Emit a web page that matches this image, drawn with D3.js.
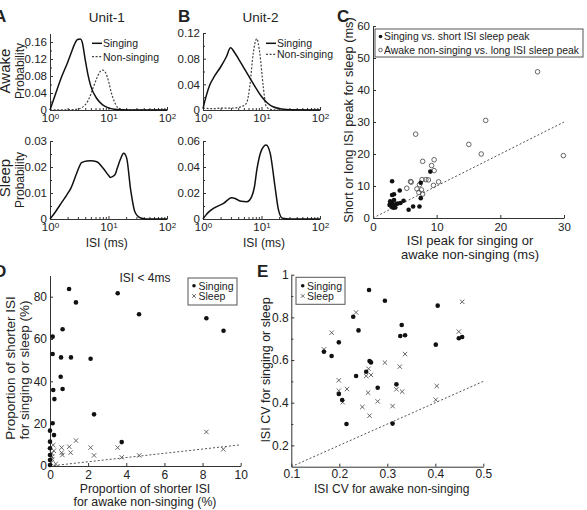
<!DOCTYPE html>
<html><head><meta charset="utf-8">
<script src="https://cdn.jsdelivr.net/npm/d3@7"></script>
<style>body{margin:0;background:#fff;} svg{display:block;}</style>
</head><body><svg id="c" width="587" height="510"></svg>
<script>
// ---------------- DATA ----------------
// Panel A (Unit-1) ISI distributions, ISI in ms
const u1SingIsi = [1,1.26,1.58,2,2.34,2.63,2.95,3.31,3.55,3.98,4.47,5.01,6.31,7.94,10,12.6,17.8,25,100];
const u1SingP   = [0,0.04,0.078,0.112,0.137,0.155,0.166,0.167,0.16,0.12,0.082,0.055,0.027,0.012,0.005,0.002,0.0005,0,0];
const u1NonIsi  = [1,1.58,2.5,3.16,3.98,4.47,5.01,5.62,6.31,7.08,7.94,8.91,10,11.2,12.6,14.1,15.8,20,100];
const u1NonP    = [0.0005,0.0005,0.001,0.003,0.012,0.022,0.038,0.057,0.075,0.089,0.094,0.088,0.068,0.04,0.02,0.007,0.003,0.0005,0];
const u1SleepIsi = [1,1.26,1.48,1.78,1.93,2.29,2.86,3.47,4.27,5.0,6.3,8.1,10,10.7,12.9,14.1,15.8,18.2,20.4,24,28.2,34.7,45,100];
const u1SleepP   = [0,0.003,0.0054,0.008,0.0092,0.012,0.0176,0.0217,0.0223,0.0224,0.022,0.0195,0.0168,0.016,0.017,0.0195,0.0227,0.0253,0.0235,0.011,0.0028,0.0005,0,0];
// Panel B (Unit-2)
const u2SingIsi = [1,1.12,1.32,1.58,2.0,2.51,2.95,3.55,4.47,6.31,7.94,10,12.6,15.8,22.4,31.6,100];
const u2SingP   = [0.002,0.02,0.04,0.053,0.067,0.083,0.097,0.088,0.073,0.05,0.035,0.021,0.011,0.005,0.0015,0.0003,0];
const u2NonIsi  = [1,1.5,2,3,3.98,5.01,5.62,6.31,7.24,8.32,9.33,10.7,12.0,14.1,20,100];
const u2NonP    = [0.003,0.002,0.003,0.003,0.004,0.007,0.012,0.037,0.089,0.111,0.089,0.037,0.006,0.001,0,0];
const u2SleepIsi = [1,1.12,1.26,1.51,2.24,3.09,3.55,4.27,5.62,6.76,7.59,8.32,10,12.0,14.1,17,19.5,22.9,30,100];
const u2SleepP   = [0,0.003,0.0055,0.0082,0.012,0.0164,0.0158,0.0138,0.0133,0.017,0.025,0.0377,0.053,0.057,0.0505,0.025,0.007,0.0005,0,0];

// Panel C
const cSingX = [3.0,3.3,3.0,4.2,2.7,3.0,2.6,3.2,3.5,3.8,4.3,4.8,5.6,6.3,7.3,7.5,7.5,9.0,2.8,3.3,3.1,2.9,3.5];
const cSingY = [11.5,7.4,7.2,8.6,5.2,4.7,4.1,3.2,4.2,4.5,4.7,5.4,2.6,3.6,3.6,6.2,11.0,14.5,4.8,5.6,3.8,3.5,3.3];
const cAwakeX = [25.85,17.7,15.05,17.0,29.9,6.7,7.8,9.6,9.2,9.6,10.3,9.5,5.9,6.0,7.7,8.3,8.7,6.9,7.2,7.8,7.6,5.3,7.3];
const cAwakeY = [45.7,30.5,23.0,20.0,19.5,26.2,17.7,18.2,16.4,14.8,11.3,10.2,11.4,11.2,12.0,12.0,11.9,9.1,8.0,7.5,8.8,9.3,10.4];

// Panel D (ISI < 4ms)
const dSingX = [1.0,1.36,3.55,4.67,8.2,9.1,0.66,0.14,0.14,0.58,1.1,2.13,0.56,0.66,0.17,0.23,2.31,0.14,0.0,0.21,0.0,3.76,0.0,0.0,0.0,0.0];
const dSingY = [83.6,77.3,81.6,71.7,69.8,63.9,64.6,61.1,52.9,51.3,51.3,50.7,42.2,36.4,35.9,31.6,24.4,20.2,16.7,14.6,11.5,11.3,8.4,5.2,2.8,0.5];
const dSleepX = [0.17,0.61,1.01,1.36,1.08,0.61,0.65,0.2,0.1,0.1,0.12,2.13,2.31,3.55,3.76,4.68,8.2,9.09,0.05,0.3];
const dSleepY = [9.9,8.7,9.1,12.0,6.3,6.3,5.2,7.2,6.0,4.3,3.2,8.7,5.0,8.7,4.1,5.0,16.1,7.9,1.5,1.0];

// Panel E (ISI CV)
const eSingX = [0.262,0.295,0.405,0.229,0.240,0.330,0.327,0.337,0.401,0.449,0.456,0.199,0.168,0.184,0.263,0.266,0.256,0.235,0.280,0.319,0.199,0.206,0.215,0.311];
const eSingY = [0.928,0.878,0.855,0.803,0.739,0.764,0.713,0.716,0.672,0.702,0.708,0.683,0.639,0.619,0.595,0.589,0.545,0.525,0.470,0.486,0.441,0.413,0.300,0.302];
const eSleepX = [0.235,0.456,0.184,0.449,0.168,0.337,0.295,0.326,0.261,0.266,0.256,0.199,0.403,0.216,0.319,0.331,0.260,0.199,0.207,0.280,0.401,0.248,0.311,0.263];
const eSleepY = [0.823,0.873,0.728,0.733,0.650,0.628,0.588,0.569,0.559,0.530,0.525,0.505,0.478,0.464,0.463,0.452,0.447,0.456,0.402,0.406,0.414,0.380,0.384,0.339];

// tick values
const logMajor = [1,10,100];
const logMinor = [2,3,4,5,6,7,8,9,20,30,40,50,60,70,80,90];
const aTopTicks = [0,0.04,0.08,0.12,0.16];
const aBotTicks = [0,0.01,0.02,0.03];
const bTopTicks = [0,0.04,0.08,0.12];
const bBotTicks = [0,0.02,0.04,0.06];
const cTicksX = [0,10,20,30];
const cTicksY = [0,10,20,30,40,50,60];
const dTicksX = [0,2,4,6,8,10];
const dTicksY = [0,20,40,60,80];
const eTicksX = [0.1,0.2,0.3,0.4,0.5];
const eTicksY = [0.2,0.4,0.6,0.8,1];

// ---------------- DRAW ----------------
const FONT = '"Liberation Sans", Arial, Helvetica, sans-serif';
const AX = "#333";
const svg = d3.select("#c");

function styleAxis(g, fs) {
  g.attr("font-family", FONT).attr("font-size", fs);
  g.selectAll("path.domain").attr("stroke", AX).attr("stroke-width", 1);
  g.selectAll("line").attr("stroke", AX).attr("stroke-width", 1);
  g.selectAll("text").attr("fill", "#222");
}
function yAxis(x0, scale, major, minor, fs, pad) {
  const g = svg.append("g").attr("transform", `translate(${x0},0)`);
  g.call(d3.axisLeft(scale).tickValues(major).tickFormat(d => String(d)).tickSize(-3).tickSizeOuter(0).tickPadding(pad));
  if (minor) {
    const m = g.append("g").call(d3.axisLeft(scale).tickValues(minor).tickFormat("").tickSize(-2).tickSizeOuter(0));
    m.select(".domain").remove();
  }
  styleAxis(g, fs);
  return g;
}
function xAxis(y0, scale, major, minor, fs, pad, relabel) {
  const g = svg.append("g").attr("transform", `translate(0,${y0})`);
  g.call(d3.axisBottom(scale).tickValues(major).tickFormat(d => String(d)).tickSize(-3).tickSizeOuter(0).tickPadding(pad));
  if (relabel) g.selectAll(".tick text").each(relabel);
  if (minor) {
    const m = g.append("g").call(d3.axisBottom(scale).tickValues(minor).tickFormat("").tickSize(-2).tickSizeOuter(0));
    m.select(".domain").remove();
  }
  styleAxis(g, fs);
  return g;
}
function logXAxis(y0, scale) {
  return xAxis(y0, scale, logMajor, logMinor, 11.5, 4, function(d) {
    const t = d3.select(this);
    t.text("10");
    t.append("tspan").attr("dy", "-0.45em").attr("font-size", "0.7em").text(String(Math.round(Math.log10(d))));
  });
}
function txt(x, y, s, fs, opts = {}) {
  const t = svg.append("text").attr("x", x).attr("y", y).text(s)
    .attr("font-family", FONT).attr("font-size", fs).attr("fill", "#222")
    .attr("text-anchor", opts.anchor || "start");
  if (opts.bold) t.attr("font-weight", "bold");
  if (opts.rot) t.attr("transform", `rotate(-90,${x},${y})`);
  return t;
}
function curve(xs, ys, isi, p, dashed) {
  const line = d3.line().x(d => xs(d[0])).y(d => ys(d[1])).curve(d3.curveMonotoneX);
  svg.append("path").datum(d3.zip(isi, p)).attr("d", line).attr("fill", "none")
    .attr("stroke", dashed ? "#444" : "#111").attr("stroke-width", dashed ? 1.2 : 1.5)
    .attr("stroke-dasharray", dashed ? "2,1.6" : null);
}
function dots(xs, ys, X, Y, r) {
  svg.append("g").selectAll("circle").data(d3.zip(X, Y)).join("circle")
    .attr("cx", d => xs(d[0])).attr("cy", d => ys(d[1])).attr("r", r).attr("fill", "#111");
}
function rings(xs, ys, X, Y, r) {
  svg.append("g").selectAll("circle").data(d3.zip(X, Y)).join("circle")
    .attr("cx", d => xs(d[0])).attr("cy", d => ys(d[1])).attr("r", r)
    .attr("fill", "none").attr("stroke", "#555").attr("stroke-width", 0.9);
}
function crosses(xs, ys, X, Y, s) {
  svg.append("g").selectAll("path").data(d3.zip(X, Y)).join("path")
    .attr("d", d => { const x = xs(d[0]), y = ys(d[1]); return `M${x-s},${y-s}L${x+s},${y+s}M${x-s},${y+s}L${x+s},${y-s}`; })
    .attr("stroke", "#555").attr("stroke-width", 0.9).attr("fill", "none");
}
function diag(xs, ys, a, b) {
  svg.append("line").attr("x1", xs(a)).attr("y1", ys(a)).attr("x2", xs(b)).attr("y2", ys(b))
    .attr("stroke", "#555").attr("stroke-width", 1).attr("stroke-dasharray", "2,2");
}

// ----- Panel A -----
const xA = d3.scaleLog().domain([1, 100]).range([50, 167]);
const yAt = d3.scaleLinear().domain([0, 0.18]).range([110, 33.5]);
const yAb = d3.scaleLinear().domain([0, 0.03]).range([219, 141]);
yAxis(50, yAt, aTopTicks, [0.02,0.06,0.1,0.14], 11.5, 3);
logXAxis(110, xA);
yAxis(50, yAb, aBotTicks, [0.005,0.015,0.025], 11.5, 3);
logXAxis(219, xA);
curve(xA, yAt, u1NonIsi, u1NonP, true);
curve(xA, yAt, u1SingIsi, u1SingP, false);
curve(xA, yAb, u1SleepIsi, u1SleepP, false);

// ----- Panel B -----
const xB = d3.scaleLog().domain([1, 100]).range([203, 320]);
const yBt = d3.scaleLinear().domain([0, 0.12]).range([110, 33]);
const yBb = d3.scaleLinear().domain([0, 0.06]).range([219, 141]);
yAxis(203, yBt, bTopTicks, [0.02,0.06,0.1], 11.5, 3);
logXAxis(110, xB);
yAxis(203, yBb, bBotTicks, [0.01,0.03,0.05], 11.5, 3);
logXAxis(219, xB);
curve(xB, yBt, u2NonIsi, u2NonP, true);
curve(xB, yBt, u2SingIsi, u2SingP, false);
curve(xB, yBb, u2SleepIsi, u2SleepP, false);

// legends A / B
function isiLegend(x, y1, y2) {
  svg.append("line").attr("x1", x).attr("x2", x + 10).attr("y1", y1).attr("y2", y1).attr("stroke", "#111").attr("stroke-width", 1.5);
  svg.append("line").attr("x1", x).attr("x2", x + 10).attr("y1", y2).attr("y2", y2).attr("stroke", "#444").attr("stroke-width", 1.2).attr("stroke-dasharray", "2,1.6");
  txt(x + 11, y1 + 3.8, "Singing", 10.5);
  txt(x + 11, y2 + 3.8, "Non-singing", 10.5);
}
isiLegend(92, 43.3, 56.7);
isiLegend(266, 43.3, 54.3);

txt(106.7, 22, "Unit-1", 13.5, {anchor: "middle"});
txt(260.5, 22, "Unit-2", 13.5, {anchor: "middle"});
txt(9.5, 71, "Awake", 15, {anchor: "middle", rot: true});
txt(23.5, 71, "Probability", 12, {anchor: "middle", rot: true});
txt(9.5, 178, "Sleep", 15, {anchor: "middle", rot: true});
txt(23.5, 180, "Probability", 12, {anchor: "middle", rot: true});
txt(106.7, 247, "ISI (ms)", 12, {anchor: "middle"});
txt(264, 247, "ISI (ms)", 12, {anchor: "middle"});

// ----- Panel C -----
const xC = d3.scaleLinear().domain([0, 30]).range([373, 564]);
const yC = d3.scaleLinear().domain([0, 60]).range([218, 26]);
yAxis(373, yC, cTicksY, null, 11.5, 3);
xAxis(218, xC, cTicksX, null, 11.5, 5);
diag(xC, yC, 0, 30);
rings(xC, yC, cAwakeX, cAwakeY, 2.3);
dots(xC, yC, cSingX, cSingY, 2.3);
svg.append("rect").attr("x", 375).attr("y", 29).attr("width", 208).attr("height", 28).attr("fill", "#fff").attr("stroke", "#555").attr("stroke-width", 1);
svg.append("circle").attr("cx", 380.5).attr("cy", 36.5).attr("r", 1.8).attr("fill", "#111");
txt(384, 40.3, "Singing vs. short ISI sleep peak", 10.4);
svg.append("circle").attr("cx", 380.5).attr("cy", 50).attr("r", 1.8).attr("fill", "none").attr("stroke", "#555").attr("stroke-width", 0.9);
txt(384, 53.8, "Awake non-singing vs. long ISI sleep peak", 10.4);
txt(353, 120, "Short or long ISI peak for sleep (ms)", 12.8, {anchor: "middle", rot: true});
txt(470, 244.5, "ISI peak for singing or", 13, {anchor: "middle"});
txt(470, 258.5, "awake non-singing (ms)", 13, {anchor: "middle"});

// ----- Panel D -----
const xD = d3.scaleLinear().domain([0, 10]).range([50, 240.7]);
const yD = d3.scaleLinear().domain([0, 90]).range([466, 275.5]);
yAxis(50, yD, dTicksY, null, 12, 3);
xAxis(466, xD, dTicksX, null, 12, 4);
diag(xD, yD, 0, 10);
crosses(xD, yD, dSleepX, dSleepY, 2.2);
dots(xD, yD, dSingX, dSingY, 2.3);
svg.append("rect").attr("x", 188).attr("y", 278).attr("width", 49).attr("height", 27).attr("fill", "#fff").attr("stroke", "#555").attr("stroke-width", 1);
svg.append("circle").attr("cx", 194).attr("cy", 285.7).attr("r", 1.8).attr("fill", "#111");
txt(198.5, 289.5, "Singing", 10.5);
svg.append("path").attr("d", "M192.2,294.2L195.8,297.8M192.2,297.8L195.8,294.2").attr("stroke", "#555").attr("stroke-width", 0.9);
txt(198.5, 299.8, "Sleep", 10.5);
txt(145, 282, "ISI < 4ms", 12, {anchor: "middle"});
txt(15, 368, "Proportion of shorter ISI", 13.5, {anchor: "middle", rot: true});
txt(29, 370, "for singing or sleep (%)", 13.5, {anchor: "middle", rot: true});
txt(145, 492.5, "Proportion of shorter ISI", 12.3, {anchor: "middle"});
txt(145, 506, "for awake non-singing (%)", 12.3, {anchor: "middle"});

// ----- Panel E -----
const xE = d3.scaleLinear().domain([0.1, 0.5]).range([291.3, 483.3]);
const yE = d3.scaleLinear().domain([0.1, 1.0]).range([466.7, 274.7]);
yAxis(291.3, yE, eTicksY, [0.3,0.5,0.7,0.9], 12, 2.5);
xAxis(466.7, xE, eTicksX, null, 12, 3);
diag(xE, yE, 0.1, 0.5);
crosses(xE, yE, eSleepX, eSleepY, 2.2);
dots(xE, yE, eSingX, eSingY, 2.3);
svg.append("rect").attr("x", 296).attr("y", 277.3).attr("width", 49).attr("height", 27).attr("fill", "#fff").attr("stroke", "#555").attr("stroke-width", 1);
svg.append("circle").attr("cx", 302.7).attr("cy", 285.7).attr("r", 1.8).attr("fill", "#111");
txt(307, 289.5, "Singing", 10.5);
svg.append("path").attr("d", "M300.9,294.2L304.5,297.8M300.9,297.8L304.5,294.2").attr("stroke", "#555").attr("stroke-width", 0.9);
txt(307, 299.8, "Sleep", 10.5);
txt(270, 370, "ISI CV for singing or sleep", 12.5, {anchor: "middle", rot: true});
txt(391.7, 492.5, "ISI CV for awake non-singing", 12, {anchor: "middle"});

// panel letters
txt(-6, 22, "A", 17, {bold: true});
txt(178, 22, "B", 17, {bold: true});
txt(337, 22, "C", 17, {bold: true});
txt(-6, 277, "D", 17, {bold: true});
txt(257, 277, "E", 17, {bold: true});
</script>
</body></html>
